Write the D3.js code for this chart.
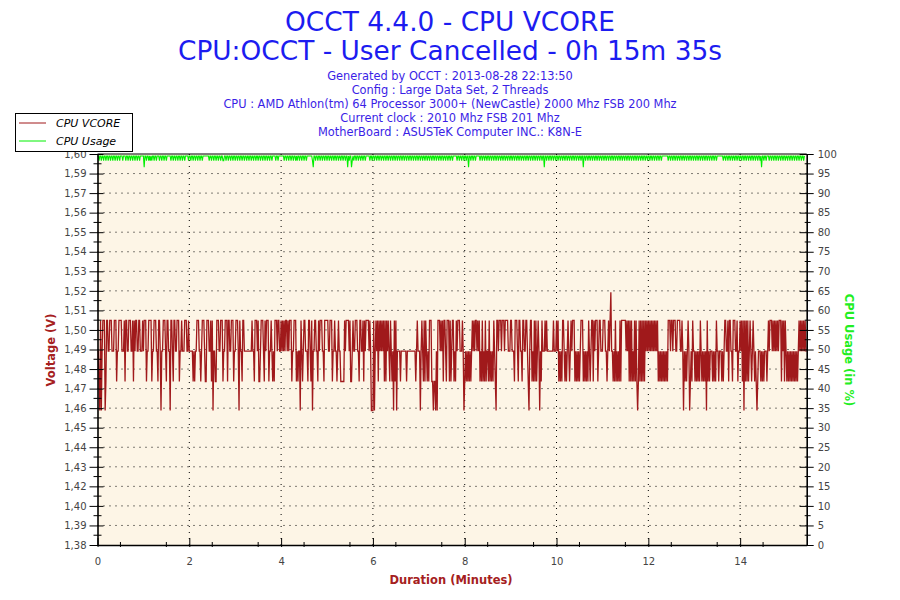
<!DOCTYPE html>
<html>
<head>
<meta charset="utf-8">
<script src="https://cdn.jsdelivr.net/npm/d3@7"></script>
<style>
  body { margin: 0; background: #fff; }
  text { font-family: "DejaVu Sans", Verdana, sans-serif; }
</style>
</head>
<body>
<div id="chart"></div>
<script>
// chart text
const titleLines = ["OCCT 4.4.0 - CPU VCORE", "CPU:OCCT - User Cancelled - 0h 15m 35s"];
const infoLines = [
  "Generated by OCCT : 2013-08-28 22:13:50",
  "Config : Large Data Set, 2 Threads",
  "CPU : AMD Athlon(tm) 64 Processor 3000+ (NewCastle) 2000 Mhz FSB 200 Mhz",
  "Current clock : 2010 Mhz FSB 201 Mhz",
  "MotherBoard : ASUSTeK Computer INC.: K8N-E"
];
const seriesNames = ["CPU VCORE", "CPU Usage"];

// axes
const voltRange = [1.3834, 1.596];
const voltTickLabels = ["1,38","1,39","1,40","1,42","1,43","1,44","1,45","1,46","1,47","1,48","1,49",
  "1,50","1,51","1,52","1,53","1,54","1,55","1,56","1,57","1,59","1,60"];
const usageTicks = [0,5,10,15,20,25,30,35,40,45,50,55,60,65,70,75,80,85,90,95,100];
const minuteTicks = [0,2,4,6,8,10,12,14];

// VCORE, one sample per second, each digit is an index in vcoreLevels (V)
const vcoreLevels = [1.4565, 1.4723, 1.4888, 1.5055, 1.5208];
const vcoreTrace = [
  "221030233301332233322233312233332223133223332231323322332223",
  "233312233331223332213320223332133220332133223331223222333223",
  "222221212233322123332113332231302211333223331223331332233312",
  "233320322133222222222232213332311233321323331223212133323322",
  "323232332323331223331212203212332221332130223322132333221333",
  "332233312232212322111113233332311232233322133223132333323200",
  "030232313232323131323213212031302222122222221222222222221232",
  "220232131321213331101102033323231332133313123312132333222320",
  "121212121232323323231213121312213121213210332333233323333222",
  "332221333213322133223321023312131312320213222323222222223222",
  "323121213321212321232333121212123331212121321233132333123322",
  "233322123234221213121213133333323231313121313101313131313232",
  "323232323232312121212121213332332333223333223202121232012132",
  "212121213212121203121222121213221222121233223133221333223122",
  "323130313131232123212101222121212221232333232323232333132313",
  "2121212121212121232323232322"
];

// CPU usage, one sample per second: a = flat top, b = short dip, c = deep dip (%)
const usageLevels = { a: 99.5, b: 98.3, c: 96.6 };
const usageTrace = [
  "aabaabaabaabaabaabaabaabaabaabaaabaaabaabaabaabaabaabaabaaaa",
  "acaabaabababaabaabaaabaabaabaabaaaaabaabaabaabaabaabaabaaaab",
  "aabaabaabaabaabaabaaaaaaaabaabaabaabaabaabaabbaabaabaabaabaa",
  "baabaabaabaabaabaabaabaabaabaabaabaabaabaabaabaabaaaabaabaaa",
  "aaaabaabaabaabaabaababaabaabaabaabaaaaaaabcaabaabaabaabaabaa",
  "baabaabaabaabaabaabaabaabaacabaacbabaabaabaabaabaabaaaaabaab",
  "aabaabaabaabaabaabaabaabaabaabaabaabaabaabaabaabaabaabaabaab",
  "aabaabaabaabaabaabaabaabaabaabaabaabaabaabaabaaaaabaabaabaab",
  "aabaacaabaabaabaaaaabaabaabaabaabaabaabaabaabaabaabaabaabaab",
  "aabaabaabaabaabaabaabaabaabaabaabaabaabaabaacaabaabaabaab",
  "aabaabaabaabaabaabaabaabaabaabaabaabaacaabaabaabaabaabaabaab",
  "aabaabaabaabaabaabaabaabaabaabaabaabaabaabaabaabaabaabaabaab",
  "aabaabaabaabaabaabaabaaaaaaaabaabaabaabaabaabaabaabaabaabaab",
  "aabaabaabaabaabaabaabaabaabaabaabaaaaaaaabaabaabaabaabaabaab",
  "aabaabaabaabaabaabaabaabaabaabacaabaabaaabaabaabaabaabaabaab",
  "aabaabaabaabaabaabaabaabaaba"
];

const vcore = vcoreTrace.join("").split("").map((c, i) => ({t: i / 60, v: vcoreLevels[+c]}));
const usage = usageTrace.join("").split("").map((c, i) => ({t: i / 60, v: usageLevels[c]}));

const margin = {top: 154, right: 93.3, bottom: 55, left: 97.5},
    width = 900 - margin.left - margin.right,
    height = 600 - margin.top - margin.bottom;

const svg = d3.select("#chart").append("svg")
    .attr("width", 900)
    .attr("height", 600);

const x = d3.scaleLinear()
    .domain([0, (vcore.length - 1) / 60])
    .range([0, width]);
const yV = d3.scaleLinear().domain(voltRange).range([height, 0]);
const yC = d3.scaleLinear().domain([0, 100]).range([height, 0]);

const voltTicks = voltTickLabels.map((d, i) => voltRange[0] + i * (voltRange[1] - voltRange[0]) / 20);

// titles
svg.selectAll(".title")
    .data(titleLines)
  .enter().append("text")
    .attr("class", "title")
    .attr("x", 450)
    .attr("y", (d, i) => 31 + i * 29)
    .attr("text-anchor", "middle")
    .style("font-size", "26.4px")
    .style("fill", "#1c1cf0")
    .text(d => d);
svg.selectAll(".info")
    .data(infoLines)
  .enter().append("text")
    .attr("class", "info")
    .attr("x", 450)
    .attr("y", (d, i) => 80 + i * 14)
    .attr("text-anchor", "middle")
    .style("font-size", "11.4px")
    .style("fill", "#3a1ee6")
    .text(d => d);

const g = svg.append("g")
    .attr("transform", "translate(" + margin.left + "," + margin.top + ")");

g.append("rect")
    .attr("width", width)
    .attr("height", height)
    .style("fill", "#fdf5e6");

// dotted grid
g.selectAll(".hgrid")
    .data(voltTicks.slice(1, -1))
  .enter().append("line")
    .attr("x1", 0).attr("x2", width)
    .attr("y1", d => yV(d)).attr("y2", d => yV(d))
    .style("stroke", "#000")
    .style("stroke-dasharray", "1,5");
g.selectAll(".vgrid")
    .data(minuteTicks.slice(1))
  .enter().append("line")
    .attr("x1", d => x(d)).attr("x2", d => x(d))
    .attr("y1", 0).attr("y2", height)
    .style("stroke", "#000")
    .style("stroke-dasharray", "1,5");

// series
g.append("path")
    .datum(usage)
    .attr("d", d3.line().x(d => x(d.t)).y(d => yC(d.v)))
    .style("fill", "none")
    .style("stroke", "#00f000")
    .style("stroke-width", 1.1);
g.append("path")
    .datum(vcore)
    .attr("d", d3.line().x(d => x(d.t)).y(d => yV(d.v)))
    .style("fill", "none")
    .style("stroke", "#a0191b")
    .style("stroke-width", 1.3);

// frame top
g.append("line")
    .attr("x1", 0).attr("x2", width)
    .attr("y1", 0).attr("y2", 0)
    .style("stroke", "#000");

// left axis
const left = g.append("g")
    .call(d3.axisLeft(yV).tickValues(voltTicks).tickSize(8).tickSizeOuter(0).tickPadding(3)
      .tickFormat((d, i) => voltTickLabels[i]));
left.selectAll(".tick line").attr("x1", 6);
g.append("g").selectAll("line")
    .data(voltTicks.slice(0, -1).map((d, i) => (d + voltTicks[i + 1]) / 2))
  .enter().append("line")
    .attr("x1", -4).attr("x2", 4)
    .attr("y1", d => yV(d)).attr("y2", d => yV(d))
    .style("stroke", "#000");

// right axis
const right = g.append("g")
    .attr("transform", "translate(" + width + ",0)")
    .call(d3.axisRight(yC).tickValues(usageTicks).tickSize(7).tickSizeOuter(0).tickPadding(4));
right.selectAll(".tick line").attr("x1", -7);
right.append("g").selectAll("line")
    .data(usageTicks.slice(0, -1).map(d => d + 2.5))
  .enter().append("line")
    .attr("x1", -2).attr("x2", 4)
    .attr("y1", d => yC(d)).attr("y2", d => yC(d))
    .style("stroke", "#000");

// bottom axis
const bottom = g.append("g")
    .attr("transform", "translate(0," + height + ")")
    .call(d3.axisBottom(x).tickValues(minuteTicks).tickSize(2).tickSizeOuter(0).tickPadding(11));
bottom.selectAll(".tick line").attr("y1", -7);
bottom.append("g").selectAll("line")
    .data(d3.range(0.5, 15.5, 1))
  .enter().append("line")
    .attr("x1", d => x(d)).attr("x2", d => x(d))
    .attr("y1", -3).attr("y2", 2)
    .style("stroke", "#000");

[left, right, bottom].forEach(a => {
  a.select(".domain").style("stroke-width", 1.6);
  a.selectAll("text").style("font-size", "10px").style("fill", "#444")
    .style("font-family", "'DejaVu Sans', Verdana, sans-serif");
});

// axis titles
svg.append("text")
    .attr("transform", "translate(55,350) rotate(-90)")
    .attr("text-anchor", "middle")
    .style("font-size", "11.5px").style("font-weight", "bold")
    .style("fill", "#a52020")
    .text("Voltage (V)");
svg.append("text")
    .attr("transform", "translate(845,350) rotate(90)")
    .attr("text-anchor", "middle")
    .style("font-size", "11.5px").style("font-weight", "bold")
    .style("fill", "#22ee22")
    .text("CPU Usage (in %)");
svg.append("text")
    .attr("x", 451).attr("y", 584)
    .attr("text-anchor", "middle")
    .style("font-size", "11.5px").style("font-weight", "bold")
    .style("fill", "#a52020")
    .text("Duration (Minutes)");

// legend
const legend = svg.append("g");
legend.append("rect")
    .attr("x", 15.5).attr("y", 113.5)
    .attr("width", 117).attr("height", 38)
    .style("fill", "#fff").style("stroke", "#000");
const legendColors = ["#a0191b", "#00f000"];
seriesNames.forEach((name, i) => {
  legend.append("line")
      .attr("x1", 19).attr("x2", 46)
      .attr("y1", 123 + i * 18).attr("y2", 123 + i * 18)
      .style("stroke", legendColors[i]);
  legend.append("text")
      .attr("x", 56).attr("y", 127 + i * 18)
      .style("font-size", "11px").style("font-style", "italic")
      .style("fill", "#000")
      .text(name);
});
</script>
</body>
</html>
